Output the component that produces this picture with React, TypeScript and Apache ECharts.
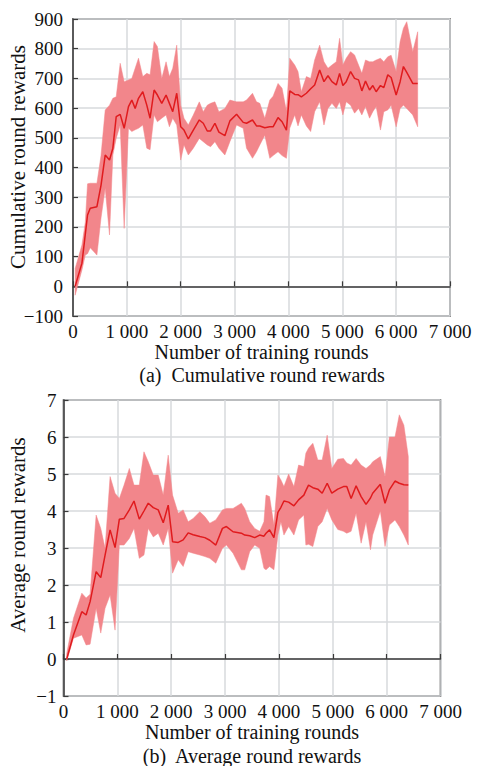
import React, { useEffect, useRef } from "react";
import * as echarts from "echarts";

// ---- Chart (a): cumulative round rewards ----
const roundsA = [40, 166, 228, 270, 320, 444, 520, 598, 678, 740, 802, 876, 950, 1030, 1092, 1154, 1216, 1296, 1370, 1431, 1506, 1567, 1648, 1728, 1790, 1852, 1926, 2000, 2061, 2141, 2234, 2345, 2419, 2493, 2555, 2635, 2709, 2820, 2913, 3037, 3160, 3222, 3333, 3407, 3469, 3561, 3654, 3715, 3807, 3882, 3963, 4024, 4117, 4178, 4240, 4333, 4413, 4487, 4580, 4660, 4734, 4808, 4888, 4950, 5011, 5073, 5154, 5228, 5302, 5363, 5431, 5506, 5567, 5629, 5709, 5771, 5845, 5907, 6000, 6074, 6135, 6197, 6308, 6400];
const meanA = [0, 78, 175, 240, 263, 268, 340, 442, 425, 465, 571, 579, 532, 605, 627, 599, 633, 655, 610, 566, 661, 644, 616, 644, 616, 588, 650, 537, 526, 496, 526, 560, 549, 523, 523, 549, 519, 507, 557, 579, 552, 549, 560, 540, 540, 534, 537, 537, 568, 554, 526, 658, 646, 645, 638, 650, 665, 678, 728, 689, 709, 689, 678, 717, 676, 689, 723, 700, 695, 658, 691, 661, 676, 655, 676, 669, 712, 703, 644, 689, 740, 720, 683, 683];
const upperA = [60, 139, 215, 345, 347, 347, 440, 594, 610, 633, 638, 751, 689, 695, 700, 734, 768, 706, 717, 712, 824, 807, 700, 756, 706, 734, 812, 610, 566, 543, 577, 621, 588, 610, 616, 621, 588, 599, 627, 621, 621, 627, 650, 621, 616, 566, 627, 640, 683, 667, 590, 768, 745, 723, 655, 706, 700, 762, 812, 756, 734, 745, 756, 835, 745, 768, 790, 779, 745, 717, 762, 756, 756, 762, 768, 756, 773, 778, 723, 824, 869, 891, 790, 857];
const lowerA = [-30, 55, 105, 110, 130, 105, 230, 330, 173, 442, 498, 543, 195, 532, 521, 527, 532, 543, 465, 460, 577, 554, 566, 577, 537, 566, 543, 425, 476, 442, 465, 498, 487, 476, 470, 487, 465, 442, 487, 543, 532, 465, 431, 453, 476, 509, 431, 440, 453, 440, 431, 532, 577, 540, 577, 540, 521, 588, 621, 543, 599, 616, 599, 621, 577, 621, 610, 583, 599, 577, 605, 566, 588, 605, 526, 588, 594, 610, 537, 599, 610, 599, 577, 537];

// ---- Chart (b): average round rewards ----
const roundsB = [60, 185, 340, 420, 494, 606, 692, 772, 865, 957, 1037, 1124, 1222, 1309, 1407, 1494, 1574, 1667, 1759, 1852, 1944, 2025, 2130, 2222, 2315, 2407, 2531, 2624, 2716, 2828, 2951, 3025, 3148, 3303, 3365, 3457, 3550, 3643, 3722, 3760, 3826, 3907, 3981, 4037, 4093, 4180, 4278, 4365, 4463, 4500, 4550, 4630, 4722, 4803, 4896, 4982, 5093, 5198, 5260, 5340, 5433, 5526, 5617, 5700, 5741, 5883, 5970, 6050, 6155, 6235, 6320, 6402];
const meanB = [0, 0.65, 1.28, 1.19, 1.55, 2.36, 2.2, 2.81, 3.49, 3.01, 3.78, 3.8, 4.03, 4.27, 3.78, 4.0, 4.21, 4.09, 4.03, 3.68, 4.16, 3.17, 3.15, 3.22, 3.41, 3.36, 3.31, 3.28, 3.21, 3.08, 3.53, 3.58, 3.44, 3.4, 3.35, 3.33, 3.28, 3.35, 3.32, 3.4, 3.49, 3.28, 3.96, 4.1, 4.27, 4.24, 4.14, 4.3, 4.43, 4.55, 4.7, 4.63, 4.59, 4.48, 4.75, 4.48, 4.59, 4.66, 4.66, 4.34, 4.68, 4.39, 4.18, 4.35, 4.48, 4.72, 4.21, 4.57, 4.81, 4.75, 4.71, 4.7];
const upperB = [0.15, 1.1, 1.78, 1.65, 1.75, 3.89, 3.53, 2.99, 4.93, 4.48, 4.34, 4.7, 5.15, 4.7, 4.7, 5.6, 5.33, 4.97, 4.97, 4.43, 5.51, 4.43, 3.94, 4.03, 3.71, 3.8, 3.98, 3.85, 3.67, 3.76, 4.03, 4.07, 4.07, 4.21, 4.07, 3.71, 3.53, 3.45, 3.71, 4.43, 4.39, 3.62, 4.97, 4.84, 4.66, 5.0, 4.66, 5.24, 5.2, 5.56, 5.7, 5.83, 5.38, 5.38, 6.05, 5.15, 5.4, 5.42, 5.3, 5.24, 5.42, 5.24, 5.15, 5.25, 5.33, 5.47, 4.93, 6.0, 6.0, 6.6, 6.32, 5.47];
const lowerB = [-0.05, 0.56, 0.65, 0.38, 0.4, 1.37, 0.7, 1.37, 1.73, 0.78, 3.08, 3.08, 3.26, 3.53, 2.72, 2.81, 3.53, 3.3, 3.4, 3.08, 3.53, 2.32, 2.68, 2.5, 2.9, 2.86, 2.81, 2.77, 2.72, 2.59, 2.99, 3.08, 2.86, 2.41, 2.41, 2.9, 3.08, 2.99, 2.45, 2.41, 2.5, 2.41, 3.35, 3.71, 3.35, 3.58, 3.35, 3.76, 3.89, 3.08, 3.1, 3.04, 3.58, 3.71, 4.07, 3.76, 3.5, 3.45, 3.4, 3.45, 3.94, 3.13, 3.71, 2.95, 3.35, 4.0, 3.04, 3.62, 3.76, 3.58, 3.35, 3.08];

const xTicks = [0, 1000, 2000, 3000, 4000, 5000, 6000, 7000];
const xAxisTitle = "Number of training rounds";
const yTitleA = "Cumulative round rewards";
const yTitleB = "Average round rewards";
const captionA = "(a)  Cumulative round rewards";
const captionB = "(b)  Average round rewards";

const FONT = "'Liberation Serif', 'Times New Roman', serif";
const BAND = "#f2868b";
const LINE = "#e01b1e";
const GRIDC = "#d7dadd";
const FRAME = "#3a3a3a";

const fmtX = (v: number) => (v === 0 ? "0" : String(v).replace(/\B(?=(\d{3})+(?!\d))/g, " "));
const fmtY = (v: number) => String(v).replace("-", "\u2212");

function pairs(xs: number[], ys: number[]) {
  return xs.map((x, i) => [x, ys[i]]);
}

export default function App() {
  const ref = useRef<HTMLDivElement>(null);
  useEffect(() => {
    if (!ref.current) return;
    const chart = echarts.init(ref.current, undefined, { renderer: "svg" });
    const xAxisBase = (gridIndex: number, gap: number) => ({
      type: "value",
      gridIndex,
      min: xTicks[0],
      max: xTicks[xTicks.length - 1],
      interval: 1000,
      name: xAxisTitle,
      nameLocation: "middle",
      nameGap: gap,
      nameTextStyle: { fontFamily: FONT, fontSize: 20, color: "#111", lineHeight: 20 },
      axisLine: { show: true, lineStyle: { color: FRAME, width: 1.5 } },
      axisTick: { show: true, inside: true, length: 5, lineStyle: { color: FRAME, width: 1.2 } },
      axisLabel: { formatter: fmtX, fontFamily: FONT, fontSize: 19, color: "#111", margin: 6 },
      splitLine: { show: true, lineStyle: { color: GRIDC, width: 1.5 } },
    });
    const yAxisBase = (gridIndex: number, min: number, max: number, interval: number, margin: number) => ({
      type: "value",
      gridIndex,
      min,
      max,
      interval,
      axisLine: { show: true, lineStyle: { color: FRAME, width: 1.5 } },
      axisTick: { show: true, inside: true, length: 5, lineStyle: { color: FRAME, width: 1.2 } },
      axisLabel: { formatter: fmtY, fontFamily: FONT, fontSize: 19, color: "#111", margin },
      splitLine: { show: true, lineStyle: { color: GRIDC, width: 1.5 } },
    });
    const bandSeries = (idx: number, xs: number[], lo: number[], hi: number[]) => ({
      type: "custom",
      xAxisIndex: idx,
      yAxisIndex: idx,
      silent: true,
      z: 1,
      data: xs.map((x, i) => [x, lo[i], hi[i]]),
      encode: { x: 0, y: [1, 2] },
      renderItem: (params: any, api: any) => {
        if (params.dataIndex !== 0) return null;
        const pts: number[][] = [];
        for (let i = 0; i < xs.length; i++) pts.push(api.coord([xs[i], hi[i]]));
        for (let i = xs.length - 1; i >= 0; i--) pts.push(api.coord([xs[i], lo[i]]));
        return {
          type: "polygon",
          shape: { points: pts },
          style: { fill: BAND, stroke: BAND, lineWidth: 0.5 },
        };
      },
    });
    const meanSeries = (idx: number, xs: number[], ys: number[]) => ({
      type: "line",
      xAxisIndex: idx,
      yAxisIndex: idx,
      data: pairs(xs, ys),
      showSymbol: false,
      symbol: "none",
      lineStyle: { color: LINE, width: 1.5 },
      z: 3,
    });
    chart.setOption({
      animation: false,
      backgroundColor: "#ffffff",
      grid: [
        { left: 73, top: 19, width: 377, height: 297, show: true, borderColor: FRAME, borderWidth: 1.5, backgroundColor: "transparent" },
        { left: 63.5, top: 400, width: 377, height: 296, show: true, borderColor: FRAME, borderWidth: 1.5, backgroundColor: "transparent" },
      ],
      xAxis: [xAxisBase(0, 25), xAxisBase(1, 26)],
      yAxis: [yAxisBase(0, -100, 900, 100, 10), yAxisBase(1, -1, 7, 1, 7)],
      series: [
        bandSeries(0, roundsA, lowerA, upperA),
        meanSeries(0, roundsA, meanA),
        bandSeries(1, roundsB, lowerB, upperB),
        meanSeries(1, roundsB, meanB),
      ],
      graphic: [
        {
          type: "text",
          x: 18,
          y: 157,
          rotation: Math.PI / 2,
          style: { text: yTitleA, fontFamily: FONT, fontSize: 21, fill: "#111", align: "center", verticalAlign: "middle" },
        },
        {
          type: "text",
          x: 18,
          y: 535,
          rotation: Math.PI / 2,
          style: { text: yTitleB, fontFamily: FONT, fontSize: 21, fill: "#111", align: "center", verticalAlign: "middle" },
        },
        {
          type: "text",
          x: 262,
          y: 375,
          style: { text: captionA, fontFamily: FONT, fontSize: 20, fill: "#111", align: "center", verticalAlign: "middle" },
        },
        {
          type: "text",
          x: 252,
          y: 756,
          style: { text: captionB, fontFamily: FONT, fontSize: 20, fill: "#111", align: "center", verticalAlign: "middle" },
        },
      ],
    });
    return () => chart.dispose();
  }, []);
  return <div ref={ref} style={{ position: "absolute", left: 0, top: 0, width: 479, height: 766 }} />;
}
